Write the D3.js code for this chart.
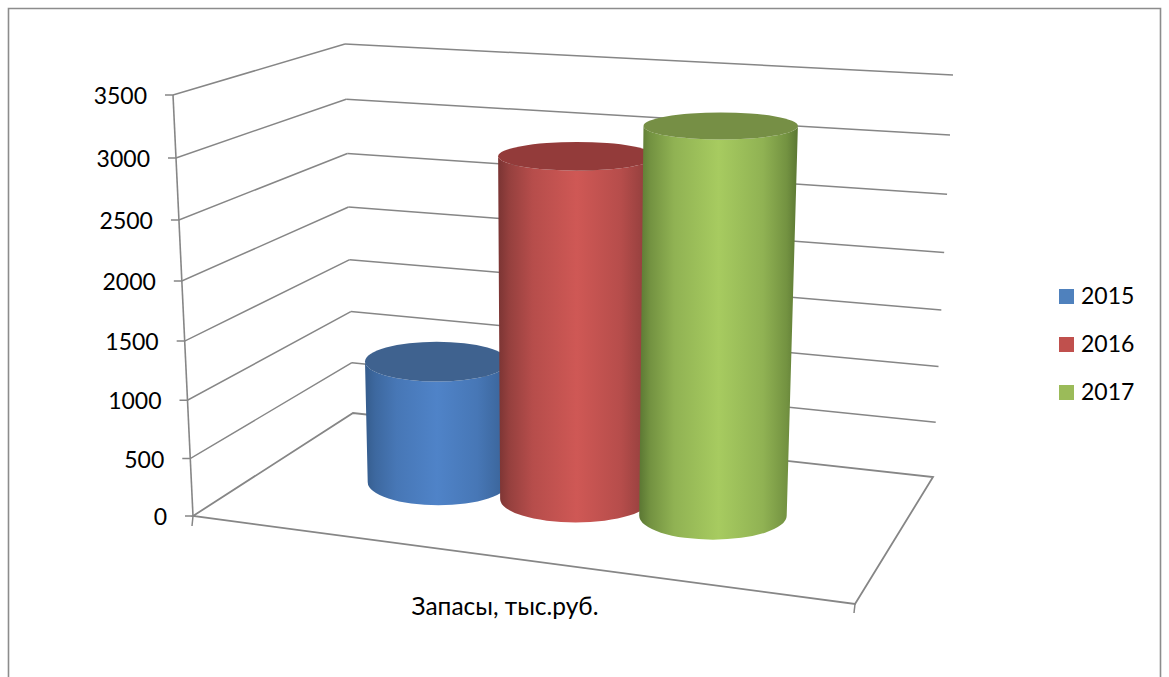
<!DOCTYPE html>
<html>
<head>
<meta charset="utf-8">
<script src="https://cdn.jsdelivr.net/npm/d3@7"></script>
<style>
html, body { margin: 0; padding: 0; background: #fff; overflow: hidden; }
svg { display: block; }
text { font-family: Lato, "Noto Sans", sans-serif; fill: #000; }
</style>
</head>
<body>
<svg></svg>
<script>
// data
var years = ['2015', '2016', '2017'];
var stock = [1085, 2935, 3255];
var category = 'Запасы, тыс.руб.';
var valueTicks = [0, 500, 1000, 1500, 2000, 2500, 3000, 3500];

var w = 1169, h = 677;
var svg = d3.select('svg').attr('width', w).attr('height', h);

// box corners on screen, as the 3d view shows them
var floor = {fl: [193, 516], bl: [353, 413], br: [933, 477], fr: [855, 604]};
var roof = {fl: [173, 95], bl: [345, 44], br: [953, 75], fr: [870, 140]};
var gridColor = '#868686';

function mix(a, b, t) {
	return [a[0] + (b[0] - a[0]) * t, a[1] + (b[1] - a[1]) * t];
}
function plane(p, u, d) {
	return mix(mix(p.fl, p.fr, u), mix(p.bl, p.br, u), d);
}

var yScale = d3.scaleLinear().domain([0, 3500]).range([0, 1]);
var uScale = d3.scaleBand().domain(years).range([0.151, 0.816]).padding(0);
var ryScale = d3.scaleLinear().domain([125, 516]).range([13.5, 24]);
// the bars do not look quite the same width in this view
var radiusScale = d3.scaleLinear().domain([0.26, 0.48, 0.71]).range([0.114, 0.122, 0.119]).clamp(true);
var barDepth = 0.52;

// point in the box: u across, d into the depth, value up
function project(u, d, value) {
	var v = yScale(value);
	var k = 1.055;
	var t = v / (k + (1 - k) * v);
	return mix(plane(floor, u, d), plane(roof, u, d), t);
}

var defs = svg.append('defs');

// frame of the chart
svg.append('path')
	.attr('d', 'M8.5,677 V8.5 H1160.5 V677')
	.attr('fill', 'none')
	.attr('stroke', '#8c8c8c')
	.attr('stroke-width', 1.6);

// walls
var lineGen = d3.line();
valueTicks.forEach(function(val) {
	var a = project(0, 0, val), b = project(0, 1, val), c = project(1, 1, val);
	if (val === 0) return;
	svg.append('path')
		.attr('d', lineGen([b, a, [a[0] - 8, a[1]]]))
		.attr('fill', 'none').attr('stroke', gridColor).attr('stroke-width', 1.5);
	svg.append('path')
		.attr('d', lineGen([b, c]))
		.attr('fill', 'none').attr('stroke', gridColor).attr('stroke-width', 1.5);
});

// floor and the left axis
svg.append('path')
	.attr('d', lineGen([project(0, 0, 0), project(0, 1, 0), project(1, 1, 0), project(1, 0, 0)]) + 'Z')
	.attr('fill', 'none').attr('stroke', gridColor).attr('stroke-width', 1.8);
svg.append('path')
	.attr('d', lineGen([project(0, 0, 3500), project(0, 0, 0)]))
	.attr('fill', 'none').attr('stroke', gridColor).attr('stroke-width', 1.6);
var zero = project(0, 0, 0), far = project(1, 0, 0);
svg.append('path')
	.attr('d', lineGen([[zero[0] - 8, zero[1]], zero, [zero[0] - 1, zero[1] + 10]]))
	.attr('fill', 'none').attr('stroke', gridColor).attr('stroke-width', 1.5);
svg.append('path')
	.attr('d', lineGen([far, [far[0] - 1, far[1] + 9]]))
	.attr('fill', 'none').attr('stroke', gridColor).attr('stroke-width', 1.5);

// value labels
svg.selectAll('.valueLabel')
	.data(valueTicks)
	.enter()
	.append('text')
	.attr('class', 'valueLabel')
	.attr('x', function(d) { return project(0, 0, d)[0] - 26; })
	.attr('y', function(d) { return project(0, 0, d)[1] + 9; })
	.attr('text-anchor', 'end')
	.attr('font-size', 23)
	.text(function(d) { return d; });

// cylinders
var shades = [
	{edge: '#355c8c', mid: '#4f83c8', top: '#3f628f', key: '#4f81bd'},
	{edge: '#7a3433', mid: '#cf5855', top: '#933b3a', key: '#c0504d'},
	{edge: '#5b7733', mid: '#a7cb60', top: '#768f45', key: '#9bbb59'}
];
var stops = [[0, 0], [0.07, 0.32], [0.22, 0.7], [0.5, 1], [0.78, 0.7], [0.93, 0.32], [1, 0]];

years.forEach(function(year, i) {
	var u = uScale(year) + uScale.bandwidth() / 2;
	var r = radiusScale(u);
	var low = project(u, barDepth, 0), high = project(u, barDepth, stock[i]);
	var widthLow = project(u + r, barDepth, 0)[0] - low[0];
	var widthHigh = project(u + r, barDepth, stock[i])[0] - high[0];
	var ryLow = ryScale(low[1]), ryHigh = ryScale(high[1]);

	var shade = d3.interpolateRgb(shades[i].edge, shades[i].mid);
	var grad = defs.append('linearGradient')
		.attr('id', 'bar' + year).attr('x1', 0).attr('x2', 1).attr('y1', 0).attr('y2', 0);
	stops.forEach(function(s) {
		grad.append('stop').attr('offset', s[0]).attr('stop-color', shade(s[1]));
	});

	var side = 'M' + (high[0] - widthHigh) + ',' + high[1] +
		' L' + (low[0] - widthLow) + ',' + low[1] +
		' A' + widthLow + ',' + ryLow + ' 0 0 0 ' + (low[0] + widthLow) + ',' + low[1] +
		' L' + (high[0] + widthHigh) + ',' + high[1] +
		' A' + widthHigh + ',' + ryHigh + ' 0 0 1 ' + (high[0] - widthHigh) + ',' + high[1] + 'Z';
	svg.append('path').attr('d', side).attr('fill', 'url(#bar' + year + ')');
	svg.append('ellipse')
		.attr('cx', high[0]).attr('cy', high[1])
		.attr('rx', widthHigh).attr('ry', ryHigh)
		.attr('fill', shades[i].top);
});

// category label
var frontMid = project(0.5, 0, 0);
svg.append('text')
	.attr('x', frontMid[0] - 19)
	.attr('y', frontMid[1] + 55)
	.attr('text-anchor', 'middle')
	.attr('font-size', 24.5)
	.text(category);

// legend
var legendY = d3.scalePoint().domain(years).range([289, 385]);
var legend = svg.selectAll('.key').data(years).enter().append('g')
	.attr('class', 'key')
	.attr('transform', function(d) { return 'translate(1059,' + legendY(d) + ')'; });
legend.append('rect')
	.attr('width', 15).attr('height', 15)
	.attr('fill', function(d, i) { return shades[i].key; });
legend.append('text')
	.attr('x', 22).attr('y', 15)
	.attr('font-size', 23)
	.text(function(d) { return d; });
</script>
</body>
</html>
